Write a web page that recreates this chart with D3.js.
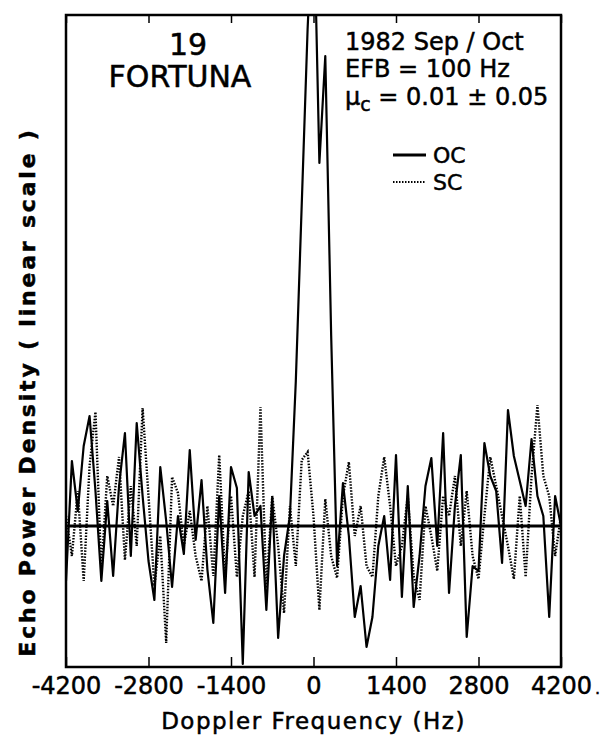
<!DOCTYPE html>
<html>
<head>
<meta charset="utf-8">
<script src="https://cdn.jsdelivr.net/npm/d3@7"></script>
<style>
  body { margin: 0; background: #fff; }
  text { font-family: "DejaVu Sans", sans-serif; fill: #000; stroke: #000; stroke-width: 0.5px; }
</style>
</head>
<body>
<div class="vis-spectrum"></div>
<script>
// Doppler frequency grid (Hz), 100 Hz steps
const freqs = d3.range(-4200, 4201, 100);

// echo power density, arbitrary linear units
const ocValues = [
  -0.55, 0.65, 0.15, 0.8, 1.1, 0.35, -0.55, 0.25, -0.5, 0.4,
  0.93, -0.3, 1.03, 0.3, -0.35, -0.74, 0.59, 0.05, -0.61, 0.1,
  -0.28, 0.76, -0.14, 0.46, -0.44, -0.97, 0.3, -0.67, 0.59, 0.38,
  -1.38, 0.54, 0.1, 0.2, -0.84, 0.29, -1.12, -0.3, 0.1, 1.45,
  3.21, 4.97, 6.3, 3.63, 4.7, 1.9, -0.4, 0.43, -0.1, -0.91,
  -0.6, -1.21, -0.91, -0.2, 0.1, -0.54, 0.71, -0.71, 0.4, -0.81,
  -0.3, 0.4, 0.68, -0.2, 0.93, -0.67, 0.2, 0.71, -1.11, -0.4,
  -0.45, 0.83, 0.5, 0.35, -0.37, 1.16, 0.7, 0.45, 0.2, 0.87,
  0.3, 0.1, -0.91, 0.3, 0.0
];

const scValues = [
  0.1, -0.3, 0.35, -0.55, 0.6, 1.14, -0.45, 0.5, 0.2, 0.69,
  -0.34, 0.4, -0.2, 1.18, 0.3, -0.6, -0.1, -1.17, 0.49, 0.33,
  -0.2, 0.15, -0.3, -0.55, 0.2, -0.5, 0.71, -0.5, 0.3, -0.51,
  0.1, 0.35, -0.51, 1.19, -0.62, 0.3, -0.2, -0.87, 0.2, -0.4,
  0.66, 0.74, 0.1, -0.84, 0.27, -0.3, -0.52, 0.3, 0.64, -0.1,
  0.2, -0.4, -0.51, 0.3, 0.69, 0.2, -0.4, -0.2, 0.3, -0.5,
  -0.74, 0.2, -0.1, -0.45, 0.3, 0.1, 0.5, -0.2, 0.35, -0.3,
  -0.53, 0.1, 0.69, 0.4, 0.1, -0.2, -0.53, 0.3, -0.51, 0.5,
  1.21, 0.5, 0.3, -0.3, 0.1
];

const xTicks = [-4200, -2800, -1400, 0, 1400, 2800, 4200];

const width = 604;
const height = 739;
const margin = { top: 15, right: 43, bottom: 72, left: 66 };
const innerWidth = width - margin.left - margin.right;
const innerHeight = height - margin.top - margin.bottom;

const svg = d3.select('.vis-spectrum').append('svg')
    .attr('width', width)
    .attr('height', height);

const g = svg.append('g')
    .attr('transform', `translate(${margin.left},${margin.top})`);

const xScale = d3.scaleLinear()
    .domain([-4200, 4200])
    .range([0, innerWidth]);

const yScale = d3.scaleLinear()
    .domain([-1.41, 5.11])
    .range([innerHeight, 0]);

g.append('clipPath').attr('id', 'plot-clip')
    .append('rect')
    .attr('width', innerWidth)
    .attr('height', innerHeight);

const line = d3.line()
    .x(d => xScale(d[0]))
    .y(d => yScale(d[1]));

const plot = g.append('g').attr('clip-path', 'url(#plot-clip)');

// SC, dotted
plot.append('path')
    .datum(freqs.map((f, i) => [f, scValues[i]]))
    .attr('d', line)
    .attr('fill', 'none')
    .attr('stroke', '#000')
    .attr('stroke-width', 2.4)
    .attr('stroke-dasharray', '1.5 1.5');

// OC, solid
plot.append('path')
    .datum(freqs.map((f, i) => [f, ocValues[i]]))
    .attr('d', line)
    .attr('fill', 'none')
    .attr('stroke', '#000')
    .attr('stroke-width', 2.2)
    .attr('stroke-linejoin', 'round');

// zero baseline
g.append('line')
    .attr('x1', 0).attr('x2', innerWidth)
    .attr('y1', yScale(0)).attr('y2', yScale(0))
    .attr('stroke', '#000')
    .attr('stroke-width', 3.2);

// ticks, inward on top and bottom
const xAxisBottom = d3.axisBottom(xScale)
    .tickValues(xTicks)
    .tickSize(-10)
    .tickPadding(20)
    .tickFormat(d3.format('d'));

const xAxisG = g.append('g')
    .attr('transform', `translate(0,${innerHeight})`)
    .call(xAxisBottom);
xAxisG.select('.domain').remove();
xAxisG.selectAll('line').attr('stroke-width', 1.5);
xAxisG.selectAll('text')
    .attr('dy', '0.71em')
    .attr('y', 10)
    .style('font-size', '24px')
    .style('font-family', '"DejaVu Sans", sans-serif')
    .attr('fill', '#000')
    .text(d => (d < 0 ? '-' : '') + Math.abs(d));

const xAxisTop = d3.axisTop(xScale)
    .tickValues(xTicks)
    .tickSize(-8)
    .tickFormat('');
const xTopG = g.append('g').call(xAxisTop);
xTopG.select('.domain').remove();
xTopG.selectAll('line').attr('stroke-width', 1.5);

// frame
g.append('rect')
    .attr('width', innerWidth)
    .attr('height', innerHeight)
    .attr('fill', 'none')
    .attr('stroke', '#000')
    .attr('stroke-width', 2.5);

// stray period after the last tick label
g.append('text')
    .attr('x', innerWidth + 34)
    .attr('y', innerHeight + 27)
    .style('font-size', '16px')
    .text('.');

// axis titles
svg.append('text')
    .attr('x', margin.left + innerWidth / 2)
    .attr('y', 729)
    .attr('text-anchor', 'middle')
    .style('font-size', '23px')
    .style('letter-spacing', '1.5px')
    .text('Doppler Frequency (Hz)');

svg.append('text')
    .attr('transform', 'translate(35,392) rotate(-90)')
    .attr('text-anchor', 'middle')
    .style('font-size', '22px')
    .style('font-weight', 'bold')
    .style('letter-spacing', '2.8px')
    .text('Echo Power Density ( linear scale )');

// target name
g.append('text')
    .attr('x', 122).attr('y', 40)
    .attr('text-anchor', 'middle')
    .style('font-size', '30px')
    .text('19');
g.append('text')
    .attr('x', 114).attr('y', 72)
    .attr('text-anchor', 'middle')
    .style('font-size', '30px')
    .text('FORTUNA');

// observation info
const info = g.append('g').attr('transform', 'translate(279,0)');
info.append('text').attr('y', 35).style('font-size', '24px').text('1982 Sep / Oct');
info.append('text').attr('y', 62).style('font-size', '24px').text('EFB = 100 Hz');
const mu = info.append('text').attr('y', 90).style('font-size', '24px');
mu.append('tspan').text('\u03bc');
mu.append('tspan').attr('dy', 6).style('font-size', '19px').text('c');
mu.append('tspan').attr('dy', -6).text(' = 0.01 \u00b1 0.05');

// legend
const legend = g.append('g').attr('transform', 'translate(327,140)');
[['OC', null], ['SC', '1.5 1.5']].forEach(([name, dash], i) => {
    const row = legend.append('g').attr('transform', `translate(0,${i * 27})`);
    row.append('line')
        .attr('x1', 0).attr('x2', 33)
        .attr('stroke', '#000')
        .attr('stroke-width', dash ? 2.2 : 2.8)
        .attr('stroke-dasharray', dash);
    row.append('text')
        .attr('x', 40).attr('y', 8)
        .style('font-size', '22px')
        .text(name);
});
</script>
</body>
</html>
